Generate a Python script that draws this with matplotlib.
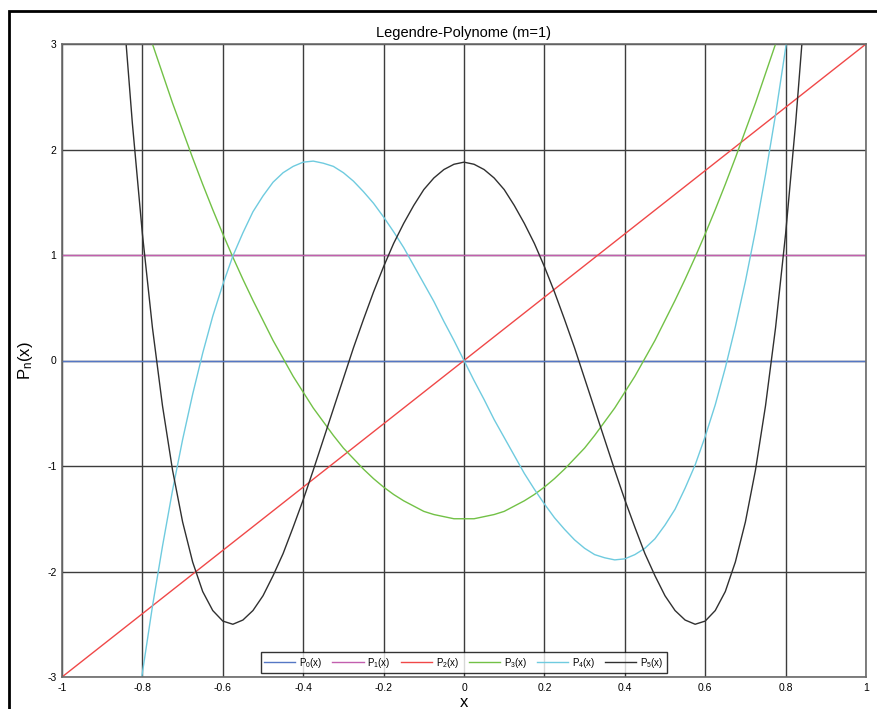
import matplotlib.pyplot as plt
from matplotlib.patches import Rectangle

plt.rcParams['font.family'] = ['Liberation Sans', 'DejaVu Sans']
plt.rcParams['mathtext.fontset'] = 'custom'
plt.rcParams['mathtext.rm'] = 'Liberation Sans'
plt.rcParams['mathtext.it'] = 'Liberation Sans'

# x-Werte (Schrittweite 0.025)
x = [-1.0, -0.975, -0.95, -0.925, -0.9, -0.875, -0.85, -0.825, -0.8, -0.775,
     -0.75, -0.725, -0.7, -0.675, -0.65, -0.625, -0.6, -0.575, -0.55, -0.525,
     -0.5, -0.475, -0.45, -0.425, -0.4, -0.375, -0.35, -0.325, -0.3, -0.275,
     -0.25, -0.225, -0.2, -0.175, -0.15, -0.125, -0.1, -0.075, -0.05, -0.025,
     0.0,
     0.025, 0.05, 0.075, 0.1, 0.125, 0.15, 0.175, 0.2, 0.225, 0.25,
     0.275, 0.3, 0.325, 0.35, 0.375, 0.4, 0.425, 0.45, 0.475, 0.5,
     0.525, 0.55, 0.575, 0.6, 0.625, 0.65, 0.675, 0.7, 0.725, 0.75,
     0.775, 0.8, 0.825, 0.85, 0.875, 0.9, 0.925, 0.95, 0.975, 1.0]

# P0..P2 sind Geraden, Endpunkte reichen
x_lin = [-1.0, 1.0]
p0 = [0.0, 0.0]
p1 = [1.0, 1.0]
p2 = [-3.0, 3.0]

p3 = [6.0, 5.63, 5.27, 4.92, 4.58, 4.24, 3.92, 3.6, 3.3, 3.0,
      2.72, 2.44, 2.18, 1.92, 1.67, 1.43, 1.2, 0.98, 0.77, 0.57,
      0.38, 0.19, 0.02, -0.15, -0.3, -0.45, -0.58, -0.71, -0.83, -0.93,
      -1.03, -1.12, -1.2, -1.27, -1.33, -1.38, -1.43, -1.46, -1.48, -1.5,
      -1.5,
      -1.5, -1.48, -1.46, -1.43, -1.38, -1.33, -1.27, -1.2, -1.12, -1.03,
      -0.93, -0.83, -0.71, -0.58, -0.45, -0.3, -0.15, 0.02, 0.19, 0.38,
      0.57, 0.77, 0.98, 1.2, 1.43, 1.67, 1.92, 2.18, 2.44, 2.72,
      3.0, 3.3, 3.6, 3.92, 4.24, 4.58, 4.92, 5.27, 5.63, 6.0]
p4 = [-10.0, -8.91, -7.88, -6.91, -6.01, -5.16, -4.37, -3.64, -2.96, -2.33,
      -1.76, -1.23, -0.75, -0.32, 0.07, 0.42, 0.72, 0.99, 1.21, 1.41,
      1.56, 1.69, 1.78, 1.84, 1.88, 1.89, 1.87, 1.84, 1.78, 1.7,
      1.6, 1.49, 1.36, 1.22, 1.07, 0.9, 0.73, 0.56, 0.37, 0.19,
      0.0,
      -0.19, -0.37, -0.56, -0.73, -0.9, -1.07, -1.22, -1.36, -1.49, -1.6,
      -1.7, -1.78, -1.84, -1.87, -1.89, -1.88, -1.84, -1.78, -1.69, -1.56,
      -1.41, -1.21, -0.99, -0.72, -0.42, -0.07, 0.32, 0.75, 1.23, 1.76,
      2.33, 2.96, 3.64, 4.37, 5.16, 6.01, 6.91, 7.88, 8.91, 10.0]
p5 = [15.0, 12.5, 10.26, 8.24, 6.45, 4.86, 3.46, 2.25, 1.2, 0.31,
      -0.43, -1.04, -1.53, -1.91, -2.19, -2.37, -2.47, -2.5, -2.46, -2.37,
      -2.23, -2.04, -1.83, -1.58, -1.32, -1.04, -0.75, -0.46, -0.17, 0.12,
      0.39, 0.65, 0.89, 1.11, 1.3, 1.47, 1.62, 1.73, 1.81, 1.86,
      1.88,
      1.86, 1.81, 1.73, 1.62, 1.47, 1.3, 1.11, 0.89, 0.65, 0.39,
      0.12, -0.17, -0.46, -0.75, -1.04, -1.32, -1.58, -1.83, -2.04, -2.23,
      -2.37, -2.46, -2.5, -2.47, -2.37, -2.19, -1.91, -1.53, -1.04, -0.43,
      0.31, 1.2, 2.25, 3.46, 4.86, 6.45, 8.24, 10.26, 12.5, 15.0]

labels = ['P$_0$(x)', 'P$_1$(x)', 'P$_2$(x)', 'P$_3$(x)', 'P$_4$(x)', 'P$_5$(x)']
colors = ['#5577c4', '#c25fae', '#f04848', '#72c146', '#6fcbdf', '#303030']

xticks = [-1, -0.8, -0.6, -0.4, -0.2, 0, 0.2, 0.4, 0.6, 0.8, 1]
xticklabels = ['-1', '-0.8', '-0.6', '-0.4', '-0.2', '0', '0.2', '0.4', '0.6', '0.8', '1']
yticks = [-3, -2, -1, 0, 1, 2, 3]
yticklabels = ['-3', '-2', '-1', '0', '1', '2', '3']

fig = plt.figure(figsize=(8.77, 7.09), dpi=100)
ax = fig.add_axes([62 / 877, 1 - 677 / 709, (866 - 62) / 877, (677 - 44) / 709])

curves = [(x_lin, p0), (x_lin, p1), (x_lin, p2), (x, p3), (x, p4), (x, p5)]
for (xs, ys), lab, c in zip(curves, labels, colors):
    ax.plot(xs, ys, color=c, lw=1.0, label=lab)

ax.set_xlim(-1, 1)
ax.set_ylim(-3, 3)
ax.set_xticks(xticks)
ax.set_xticklabels(xticklabels)
ax.set_yticks(yticks)
ax.set_yticklabels(yticklabels)
ax.tick_params(length=0, labelsize=7.5, pad=4)
ax.grid(True, color='#3c3c3c', lw=1.0)
ax.set_axisbelow(True)
for s in ax.spines.values():
    s.set_color('#6a6a6a')
    s.set_linewidth(1.2)

ax.set_title('Legendre-Polynome (m=1)', fontsize=10.5, pad=5)
ax.set_xlabel('x', fontsize=12, labelpad=2)
ax.set_ylabel('P$_\\mathrm{n}$(x)', fontsize=12, labelpad=9)

leg = ax.legend(loc='lower center', ncol=6, fontsize=7, frameon=True,
                fancybox=False, handlelength=3.2, handletextpad=0.4,
                columnspacing=1.0, borderaxespad=0.4, borderpad=0.35)
leg.get_frame().set_edgecolor('black')
leg.get_frame().set_linewidth(1.0)

# Rahmen um die Grafik
fig.add_artist(Rectangle((9 / 877, -0.1), 1.0, 1 - 11 / 709 + 0.1,
                         transform=fig.transFigure, fill=False,
                         ec='black', lw=2))

fig.savefig('out.png', dpi=100)
